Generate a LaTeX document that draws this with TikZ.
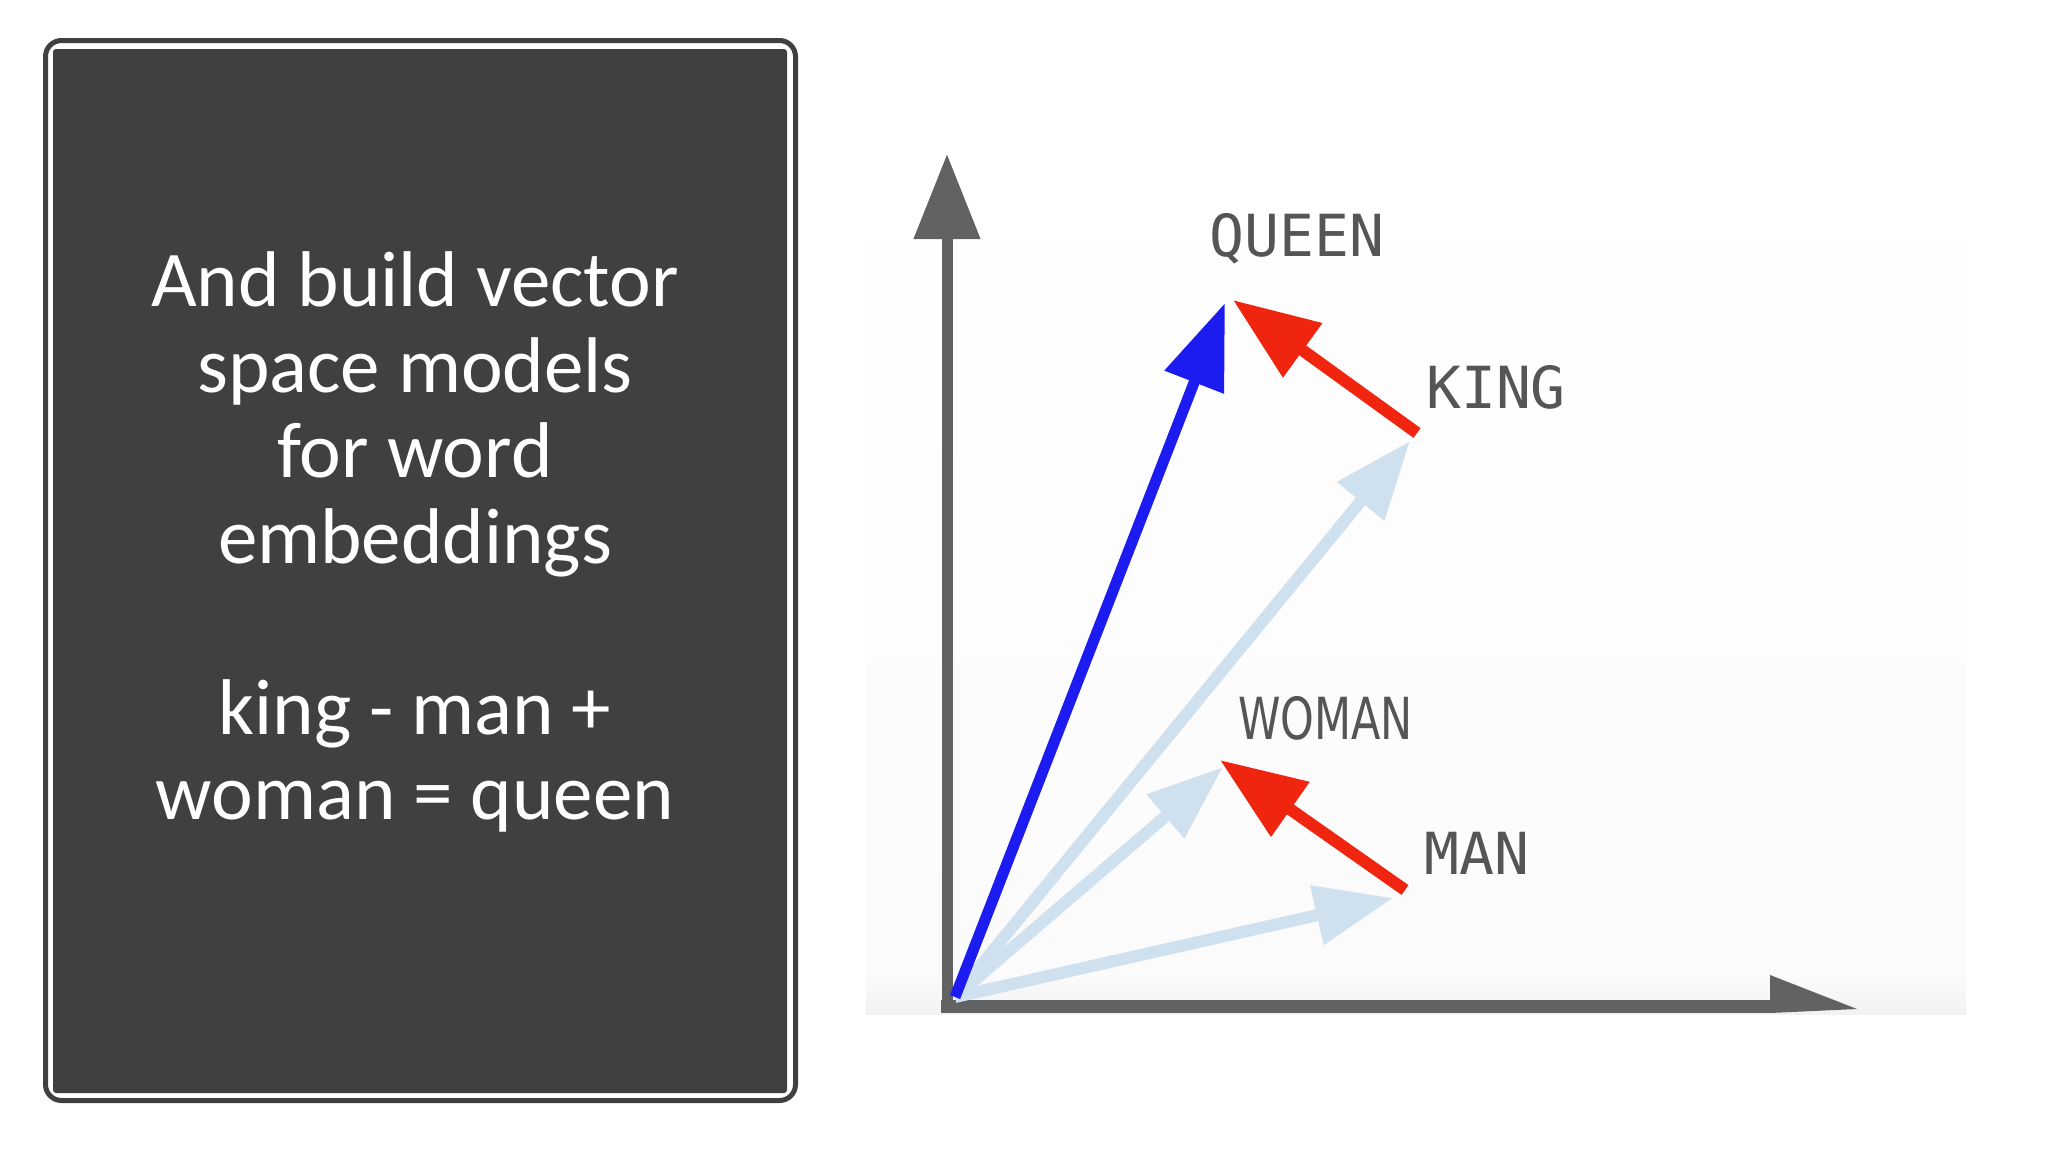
\documentclass[tikz,border=0pt]{standalone}
\usepackage{fontspec}
\setmainfont{Carlito}
\newfontfamily\labmono{DejaVu Sans Mono}
\newfontfamily\labsans{DejaVu Sans}
\usetikzlibrary{arrows.meta}
\definecolor{boxgray}{HTML}{404040}
\definecolor{axisgray}{HTML}{626262}
\definecolor{labelgray}{HTML}{555555}
\definecolor{vecblue}{HTML}{1C1CF0}
\definecolor{vecred}{HTML}{F02510}
\definecolor{veclight}{HTML}{CFE0EE}
\definecolor{imgbg}{HTML}{FBFBFB}
\tikzset{
  lbl/.style={text=labelgray, inner sep=0pt, font=\labmono\fontsize{58}{60}\selectfont},
  lightvec/.style={draw=veclight, line width=12pt, -{Triangle[length=78pt,width=58pt]}},
  redvec/.style={draw=vecred, line width=12pt, -{Triangle[length=86pt,width=64pt]}},
  bluevec/.style={draw=vecblue, line width=11pt, -{Triangle[length=85pt,width=61pt]}},
}
\begin{document}
\begin{tikzpicture}[x=1pt,y=-1pt]
\useasboundingbox (0,0) rectangle (2048,1152);
% left panel
\draw[boxgray, line width=5pt, rounded corners=16pt] (45.5,40.5) rectangle (795.5,1100.5);
\fill[boxgray, rounded corners=3pt] (53,49) rectangle (787,1093);
\node[text=white, align=center, inner sep=0pt,
      font=\fontsize{79}{85.5}\selectfont] (txt) at (415,542)
  {And build vector\\space models\\for word\\embeddings\\[85.5pt]king - man +\\woman = queen};
% image background (fades in towards the bottom)
\shade[top color=white, bottom color=imgbg] (866,140) rectangle (1966,975);
\shade[top color=imgbg, bottom color=gray!10] (866,975) rectangle (1966,1014);
% coordinates
\coordinate (O) at (955,997);
\coordinate (Qb) at (1225,303);
\coordinate (Qr) at (1233,300);
\coordinate (K) at (1417,433);
\coordinate (Kt) at (1410,441);
\coordinate (Wt) at (1223,767);
\coordinate (Wr) at (1220,760);
\coordinate (M) at (1405,890);
\coordinate (Mt) at (1393,898);
% axes
\coordinate (yo) at (947,1013);
\coordinate (ytop) at (947,154);
\coordinate (xo) at (941,1006.5);
\coordinate (xend) at (1772,1006.5);
\draw[axisgray, line width=11pt, -{Triangle[length=85pt,width=64pt]}] (yo) -- (ytop);
\draw[axisgray, line width=13pt] (xo) -- (xend);
\fill[axisgray] (1770,975) -- (1857,1009) -- (1770,1013) -- cycle;
% vectors
\draw[lightvec] (O) -- (Kt);
\draw[lightvec, -{Triangle[length=76pt,width=55pt]}] (O) -- (Wt);
\draw[lightvec] (O) -- (Mt);
\draw[bluevec] (O) -- (Qb);
\draw[redvec] (K) -- (Qr);
\draw[redvec] (M) -- (Wr);
% labels
\node[lbl] (lq) at (1297,239) {QUEEN};
\node[lbl, anchor=west] (lk) at (1426,387) {KING};
\node[lbl, anchor=west] (lm) at (1424,853) {MAN};
\node[lbl, anchor=west, font=\labsans\fontsize{58}{60}\selectfont, xscale=0.74] (lw) at (1238,718) {WOMAN};
\end{tikzpicture}
\end{document}
